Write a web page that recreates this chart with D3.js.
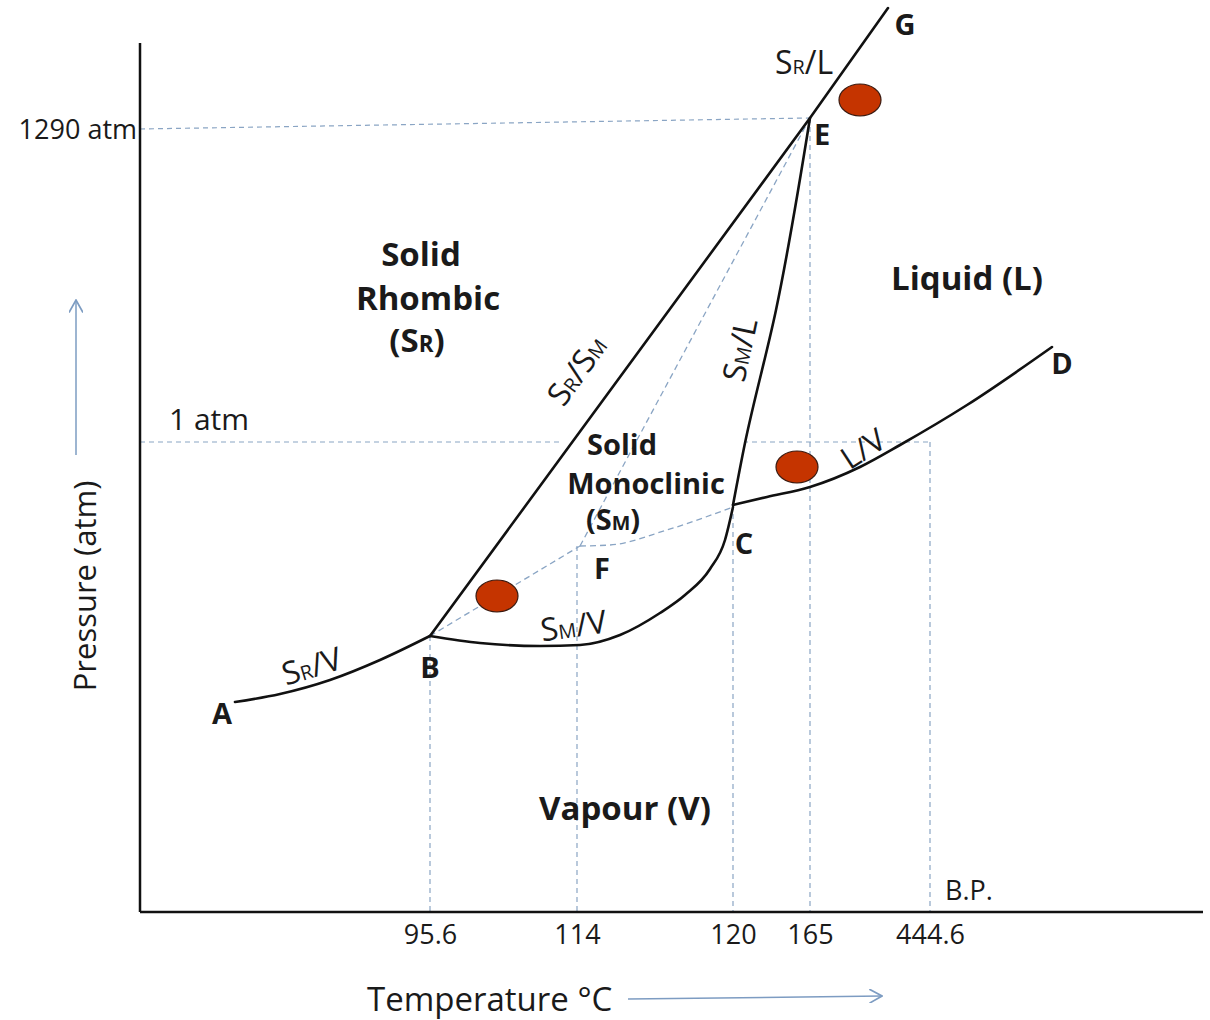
<!DOCTYPE html>
<html><head><meta charset="utf-8">
<script src="https://cdn.jsdelivr.net/npm/d3@7"></script>
<style>
body{margin:0;background:#fff;}
svg{display:block;font-family:"Open Sans",Lato,sans-serif;}
</style></head>
<body><svg id="c" width="1210" height="1020"></svg>
<script>
// Schematic phase diagram of sulfur (units: schematic distance from the origin)
const tempTicks   = ["95.6", "114", "120", "165", "444.6"];
const tempTickPos = [290, 437, 593, 670, 790];
const pressLabels = ["1290 atm", "1 atm"];
const pressPos    = [783, 470];

const curveSRV = [[95,210],[140,218],[190,232],[240,252],[290,276]];                    // A-B
const curveSMV = [[290,276],[340,269],[400,266],[440,267],[480,277],[520,299],[545,317],[570,343],[585,372],[593,405]]; // B-C
const curveLV  = [[593,407],[627,415],[670,425],[720,445],[760,467],[827,507],[912,565]]; // C-D
const curveSML = [[593,407],[605,469],[636,602],[670,794]];                              // C-E
const curveSRSM= [[290,276],[670,794],[748,904]];                                        // B-E-G
const metaBF   = [[290,276],[440,366]];
const metaFC   = [[440,366],[470,367],[527,382],[593,405]];
const metaFE   = [[440,366],[670,794]];
const triplePts = {A:[95,210], B:[290,276], C:[593,407], D:[912,565], E:[670,794], F:[440,366], G:[748,904]};
const markers  = [[720,812],[657,445],[357,316]];

const svg = d3.select("#c");
const x = d3.scaleLinear().domain([0,1063]).range([140,1203]);
const y = d3.scaleLinear().domain([0,869]).range([912,43]);
const line = d3.line().x(d=>x(d[0])).y(d=>y(d[1]));
const smoothX = d3.line().x(d=>x(d[0])).y(d=>y(d[1])).curve(d3.curveMonotoneX);
const smoothY = d3.line().x(d=>x(d[0])).y(d=>y(d[1])).curve(d3.curveMonotoneY);
const dashCol = "#8aa5c4";
const txt = "#1a1a1a";

// guide lines
const guides = svg.append("g").attr("fill","none").attr("stroke",dashCol).attr("stroke-width",1.2).attr("stroke-dasharray","5,4");
guides.append("path").attr("d", line([[0,pressPos[0]], triplePts.E]));
guides.append("path").attr("d", line([[0,pressPos[1]], [tempTickPos[4],pressPos[1]]]));
guides.append("path").attr("d", line([[tempTickPos[0],triplePts.B[1]],[tempTickPos[0],0]]));
guides.append("path").attr("d", line([[tempTickPos[1],triplePts.F[1]],[tempTickPos[1],0]]));
guides.append("path").attr("d", line([[tempTickPos[2],triplePts.C[1]],[tempTickPos[2],0]]));
guides.append("path").attr("d", line([[tempTickPos[3],triplePts.E[1]],[tempTickPos[3],0]]));
guides.append("path").attr("d", line([[tempTickPos[4],pressPos[1]],[tempTickPos[4],0]]));

// white box behind monoclinic label
svg.append("rect").attr("x",563).attr("y",432).attr("width",183).attr("height",22).attr("fill","#fff");

// metastable dashed
const meta = svg.append("g").attr("fill","none").attr("stroke",dashCol).attr("stroke-width",1.3).attr("stroke-dasharray","6,4");
meta.append("path").attr("d", line(metaBF));
meta.append("path").attr("d", smoothX(metaFC));
meta.append("path").attr("d", line(metaFE));

// axes
const ax = svg.append("g").attr("stroke","#111").attr("stroke-width",2.5);
ax.append("line").attr("x1",x(0)).attr("x2",x(0)).attr("y1",y(869)).attr("y2",y(0));
ax.append("line").attr("x1",x(0)).attr("x2",x(1063)).attr("y1",y(0)).attr("y2",y(0));

// tick labels
const xAxis = d3.axisBottom(x).tickValues(tempTickPos).tickFormat((d,i)=>tempTicks[i]).tickSize(0).tickPadding(13);
const xg = svg.append("g").attr("transform",`translate(0,${y(0)})`).call(xAxis);
xg.select(".domain").remove();
xg.selectAll("text").attr("font-family","'Open Sans',sans-serif").attr("font-size",27).attr("fill",txt);

svg.append("text").attr("x",137).attr("y",y(pressPos[0])+10).attr("text-anchor","end")
  .attr("font-size",27).attr("fill",txt).text(pressLabels[0]);
svg.append("text").attr("x",169).attr("y",y(pressPos[1])-12).attr("font-size",30).attr("fill",txt).text(pressLabels[1]);
svg.append("text").attr("x",945).attr("y",900).attr("font-size",27).attr("fill",txt).text("B.P.");

// phase boundaries
const curves = svg.append("g").attr("fill","none").attr("stroke","#111").attr("stroke-width",2.6).attr("stroke-linecap","round");
curves.append("path").attr("d", smoothX(curveSRV));
curves.append("path").attr("d", smoothX(curveSMV));
curves.append("path").attr("d", smoothX(curveLV));
curves.append("path").attr("d", smoothY(curveSML));
curves.append("path").attr("d", line(curveSRSM));

// markers
svg.append("g").selectAll("ellipse").data(markers).join("ellipse")
  .attr("cx",d=>x(d[0])).attr("cy",d=>y(d[1])).attr("rx",21).attr("ry",16)
  .attr("fill","#c53400").attr("stroke","#3a1a10").attr("stroke-width",1.2);

// point letters
const letterOff = {A:[-13,14],B:[0,34],C:[11,41],D:[10,19],E:[12,19],F:[22,25],G:[17,19]};
svg.append("g").selectAll("text").data(Object.keys(triplePts)).join("text")
  .attr("x",k=>x(triplePts[k][0])+letterOff[k][0]).attr("y",k=>y(triplePts[k][1])+letterOff[k][1])
  .attr("text-anchor","middle").attr("font-weight","bold").attr("font-size",29).attr("fill",txt)
  .attr("dominant-baseline","middle").text(k=>k);

// region labels
function lbl(parts, cx, cy, fs){
  const t = svg.append("text").attr("x",cx).attr("y",cy).attr("text-anchor","middle")
    .attr("font-weight","bold").attr("font-size",fs).attr("fill",txt);
  parts.forEach(p=>{ t.append("tspan").attr("font-size", p.sub? fs*0.68 : fs).text(p.t); });
}
lbl([{t:"Solid"}], 421, 266, 33);
lbl([{t:"Rhombic"}], 428, 310, 33);
lbl([{t:"(S"},{t:"R",sub:1},{t:")"}], 417, 352, 33);
lbl([{t:"Liquid (L)"}], 967, 290, 33);
lbl([{t:"Solid"}], 622, 455, 29);
lbl([{t:"Monoclinic"}], 646, 494, 29);
lbl([{t:"(S"},{t:"M",sub:1},{t:")"}], 613, 530, 29);
lbl([{t:"Vapour (V)"}], 625, 820, 33);

// boundary labels
function blabel(a, b, sub, c, cx, cy, ang, fs){
  const t = svg.append("text").attr("transform",`translate(${cx},${cy}) rotate(${ang})`)
    .attr("text-anchor","middle").attr("font-size",fs).attr("fill",txt);
  t.append("tspan").text(a);
  t.append("tspan").attr("font-size",fs*0.62).text(sub);
  t.append("tspan").text(b);
  if(c){ t.append("tspan").attr("font-size",fs*0.62).text(c[0]); }
}
blabel("S","/L","R",null,804,74,0,32);
blabel("S","/S","R",["M"],586,377,-54,32);
blabel("S","/L","M",null,751,352,-78,32);
blabel("S","/V","M",null,575,637,-8,32);
blabel("S","/V","R",null,315,677,-17,32);
blabel("L/V","","",null,869,458,-33,31);

// axis titles with arrows
svg.append("defs").append("marker").attr("id","arr").attr("viewBox","0 0 10 10").attr("refX",9).attr("refY",5)
  .attr("markerWidth",14).attr("markerHeight",14).attr("markerUnits","userSpaceOnUse").attr("orient","auto")
  .append("path").attr("d","M0,0 L9,5 L0,10").attr("fill","none").attr("stroke","#7d9cc2").attr("stroke-width",1.2);
svg.append("text").attr("x",367).attr("y",1011).attr("font-size",33).attr("fill",txt).text("Temperature °C");
svg.append("line").attr("x1",628).attr("y1",999).attr("x2",882).attr("y2",996).attr("stroke","#7d9cc2").attr("stroke-width",1.5).attr("marker-end","url(#arr)");
svg.append("text").attr("transform","translate(96,586) rotate(-90)").attr("text-anchor","middle").attr("font-size",31).attr("fill",txt).text("Pressure (atm)");
svg.append("line").attr("x1",76).attr("y1",455).attr("x2",76).attr("y2",300).attr("stroke","#7d9cc2").attr("stroke-width",1.5).attr("marker-end","url(#arr)");
</script></body></html>
